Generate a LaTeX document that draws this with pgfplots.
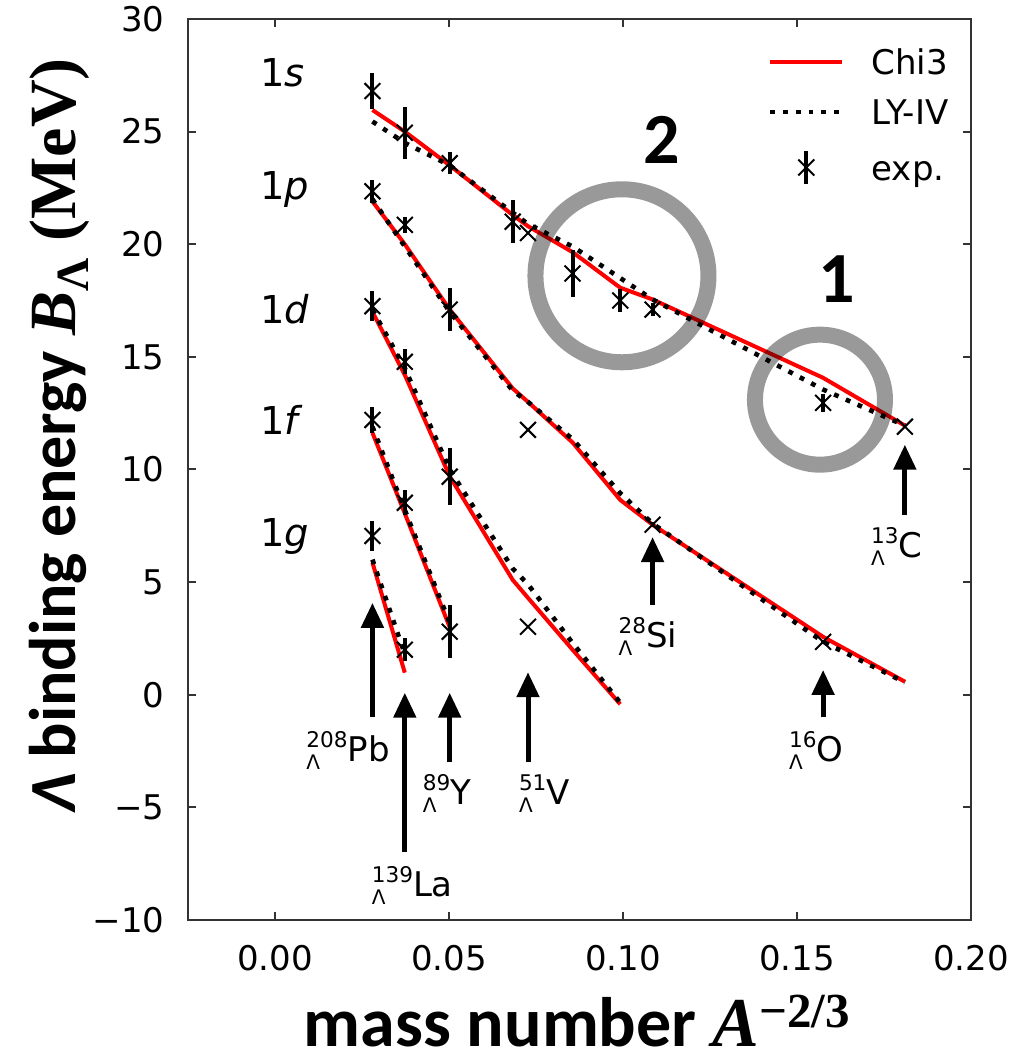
\documentclass[border=0pt]{standalone}
\usepackage{fontspec}
\setmainfont{DejaVu Sans}
\newfontfamily\carlito{Carlito}
\newfontfamily\lserif{Liberation Serif}
\usepackage{pgfplots}
\pgfplotsset{compat=1.18}
\usetikzlibrary{arrows.meta}
\newcommand\hyp[2]{\rlap{\raisebox{-4pt}{\fontsize{10}{10}\selectfont Λ}}\raisebox{7pt}{\fontsize{10.8}{11}\selectfont #1}#2}
\tikzset{arr/.style={line width=2.5pt, -{Triangle[width=11pt,length=12.5pt]}},
  nuc/.style={anchor=base west, inner sep=0pt, font=\fontsize{17}{17}\selectfont},
  lvl/.style={anchor=base west, inner sep=0pt, font=\fontsize{19.2}{20}\selectfont}}
\begin{document}
\begin{tikzpicture}
\begin{axis}[name=ax, scale only axis, width=391.5pt, height=450.5pt,
  xmin=-0.025, xmax=0.2, ymin=-10, ymax=30,
  xtick={0,0.05,0.1,0.15,0.2}, xticklabels={0.00,0.05,0.10,0.15,0.20},
  ytick={-10,-5,0,5,10,15,20,25,30}, yticklabels={−10,−5,0,5,10,15,20,25,30},
  tick align=inside, major tick length=4pt, minor tick num=0,
  axis line style={line width=1pt, black!80}, tick style={line width=1pt, black!80},
  ticklabel style={font=\fontsize{17}{17}\selectfont},
  xticklabel style={inner sep=0pt, yshift=-12.5pt},
  yticklabel style={inner sep=0pt, xshift=-11.5pt},
  xlabel={{\carlito\bfseries mass number }{\lserif\bfseries\itshape A}\textsuperscript{\lserif\bfseries −2/3}},
  ylabel={{\carlito\bfseries\itshape Λ}{\carlito\bfseries\ binding energy }{\lserif\bfseries\itshape B}{\lserif\bfseries\textsubscript{Λ}}{\lserif\bfseries\ (MeV)}},
  xlabel style={at={(axis description cs:0.497,0)}, anchor=base, yshift=-63pt, inner sep=0pt, text depth=0pt, font=\fontsize{35}{36}\selectfont},
  ylabel style={at={(axis description cs:-0.1443,0.538)}, anchor=base, inner sep=0pt, font=\fontsize{33}{36}\selectfont},
  legend image code/.code={\draw[#1] (0pt,0pt) -- (36pt,0pt);},
  legend cell align=left,
  legend style={draw=none, fill=none, at={(axis description cs:0.7407,0.9667)}, anchor=north west,
    inner sep=0pt, outer sep=0pt, row sep=12pt, column sep=13.5pt,
    font=\fontsize{17}{17}\selectfont, nodes={inner sep=0pt, text height=13pt, text depth=0pt}},
  clip=false,
]
% ---- Chi3 (red solid)
\addplot[red, line width=2pt] table {
0.0280 25.96
0.0373 25.00
0.0502 23.50
0.0683 21.30
0.0727 20.80
0.0855 19.65
0.0992 18.07
0.1085 17.55
0.1575 14.07
0.1810 11.95
};
\addlegendentry{Chi3}
\addplot[red, line width=2pt, forget plot] table {
0.0280 21.90
0.0373 20.00
0.0502 17.10
0.0683 13.60
0.0727 13.00
0.0855 11.20
0.0992 8.65
0.1085 7.55
0.1575 2.57
0.1810 0.58
};
\addplot[red, line width=2pt, forget plot] table {
0.0280 17.00
0.0373 14.20
0.0502 9.70
0.0683 5.10
0.0727 4.30
0.0855 2.00
0.0992 -0.42
};
\addplot[red, line width=2pt, forget plot] table {
0.0280 11.63
0.0373 8.05
0.0502 3.00
};
\addplot[red, line width=2pt, forget plot] table {
0.0280 5.87
0.0373 0.98
};
% ---- LY-IV (black dotted)
\addplot[black, line width=2.3pt, dash pattern=on 2.4pt off 4pt] table {
0.0280 25.45
0.0373 24.50
0.0502 23.50
0.0683 21.40
0.0727 20.90
0.0855 19.90
0.0992 18.50
0.1085 17.55
0.1575 13.55
0.1810 11.95
};
\addlegendentry{LY-IV}
\addplot[black, line width=2.3pt, dash pattern=on 2.4pt off 4pt, forget plot] table {
0.0280 22.00
0.0373 19.90
0.0502 17.00
0.0683 13.50
0.0727 13.00
0.0855 11.35
0.0992 8.95
0.1085 7.60
0.1575 2.35
0.1810 0.55
};
\addplot[black, line width=2.3pt, dash pattern=on 2.4pt off 4pt, forget plot] table {
0.0280 17.10
0.0373 14.50
0.0502 10.00
0.0683 5.60
0.0727 4.90
0.0855 2.30
0.0992 -0.35
};
\addplot[black, line width=2.3pt, dash pattern=on 2.4pt off 4pt, forget plot] table {
0.0280 11.90
0.0373 8.20
0.0502 3.20
};
\addplot[black, line width=2.3pt, dash pattern=on 2.4pt off 4pt, forget plot] table {
0.0280 6.00
0.0373 1.80
};
% ---- experiment
\addplot[black, only marks, mark=x, mark size=5.6pt, mark options={line width=1pt},
  legend image code/.code={\path[draw=none] (0pt,0pt) -- (36pt,0pt);
    \draw[black,line width=2pt] (18pt,-8.25pt) -- (18pt,8.25pt);
    \draw[black,line width=1pt] (14pt,-4pt) -- (22pt,4pt) (14pt,4pt) -- (22pt,-4pt);},
  error bars/.cd, y dir=both, y explicit, error mark=none, error bar style={line width=2pt}]
  table[x=x, y=y, y error=e] {
x y e
0.0280 26.80 0.80
0.0373 24.95 1.15
0.0502 23.60 0.50
0.0683 21.00 0.95
0.0727 20.50 0
0.0855 18.70 1.05
0.0992 17.50 0.50
0.1085 17.10 0.30
0.1575 12.96 0.40
0.1810 11.90 0
0.0280 22.35 0.52
0.0373 20.86 0.35
0.0502 17.10 0.95
0.0727 11.76 0
0.1085 7.55 0.10
0.1575 2.35 0.10
0.0280 17.25 0.66
0.0373 14.78 0.55
0.0502 9.68 1.27
0.0727 3.02 0
0.0280 12.20 0.58
0.0373 8.52 0.55
0.0502 2.80 1.18
0.0280 7.05 0.67
0.0373 2.00 0.50
};
\addlegendentry{exp.}
% ---- circles
\draw[line width=8pt, black, opacity=0.4] (axis cs:0.0997,18.6) circle[radius=43.25pt];
\draw[line width=8pt, black, opacity=0.4] (axis cs:0.1566,13.1) circle[radius=32.5pt];
\node[font=\carlito\bfseries\fontsize{36}{36}\selectfont, anchor=base, inner sep=0pt] at (axis cs:0.111,23.6) {2};
\node[font=\carlito\bfseries\fontsize{36}{36}\selectfont, anchor=base, inner sep=0pt] at (axis cs:0.1614,17.4) {1};
% ---- level labels
\node[lvl] at (axis cs:-0.0043,27.0) {1\textit{s}};
\node[lvl] at (axis cs:-0.0043,22.0) {1\textit{p}};
\node[lvl] at (axis cs:-0.0043,16.5) {1\textit{d}};
\node[lvl] at (axis cs:-0.0043,11.54) {1\textit{f}};
\node[lvl] at (axis cs:-0.0043,6.58) {1\textit{g}};
% ---- arrows
\draw[arr] (axis cs:0.0280,-0.98) -- (axis cs:0.0280,4.08);
\draw[arr] (axis cs:0.0373,-7.0) -- (axis cs:0.0373,0.09);
\draw[arr] (axis cs:0.0502,-3.0) -- (axis cs:0.0502,0.09);
\draw[arr] (axis cs:0.0727,-3.0) -- (axis cs:0.0727,1.0);
\draw[arr] (axis cs:0.1085,4.0) -- (axis cs:0.1085,7.0);
\draw[arr] (axis cs:0.1810,8.0) -- (axis cs:0.1810,11.1);
\draw[arr] (axis cs:0.1575,-1.0) -- (axis cs:0.1575,1.1);
% ---- nucleus labels
\node[nuc] at (axis cs:0.0089,-2.97) {\hyp{208}{Pb}};
\node[nuc] at (axis cs:0.0277,-8.97) {\hyp{139}{La}};
\node[nuc] at (axis cs:0.0424,-4.88) {\hyp{89}{Y}};
\node[nuc] at (axis cs:0.0700,-4.88) {\hyp{51}{V}};
\node[nuc] at (axis cs:0.0986,2.09) {\hyp{28}{Si}};
\node[nuc] at (axis cs:0.1712,6.08) {\hyp{13}{C}};
\node[nuc] at (axis cs:0.1476,-2.97) {\hyp{16}{O}};
\end{axis}
\pgfresetboundingbox
\path[use as bounding box] ([shift={(-94pt,-69pt)}]ax.south west) rectangle ([shift={(19.5pt,9.5pt)}]ax.north east);
\end{tikzpicture}
\end{document}
